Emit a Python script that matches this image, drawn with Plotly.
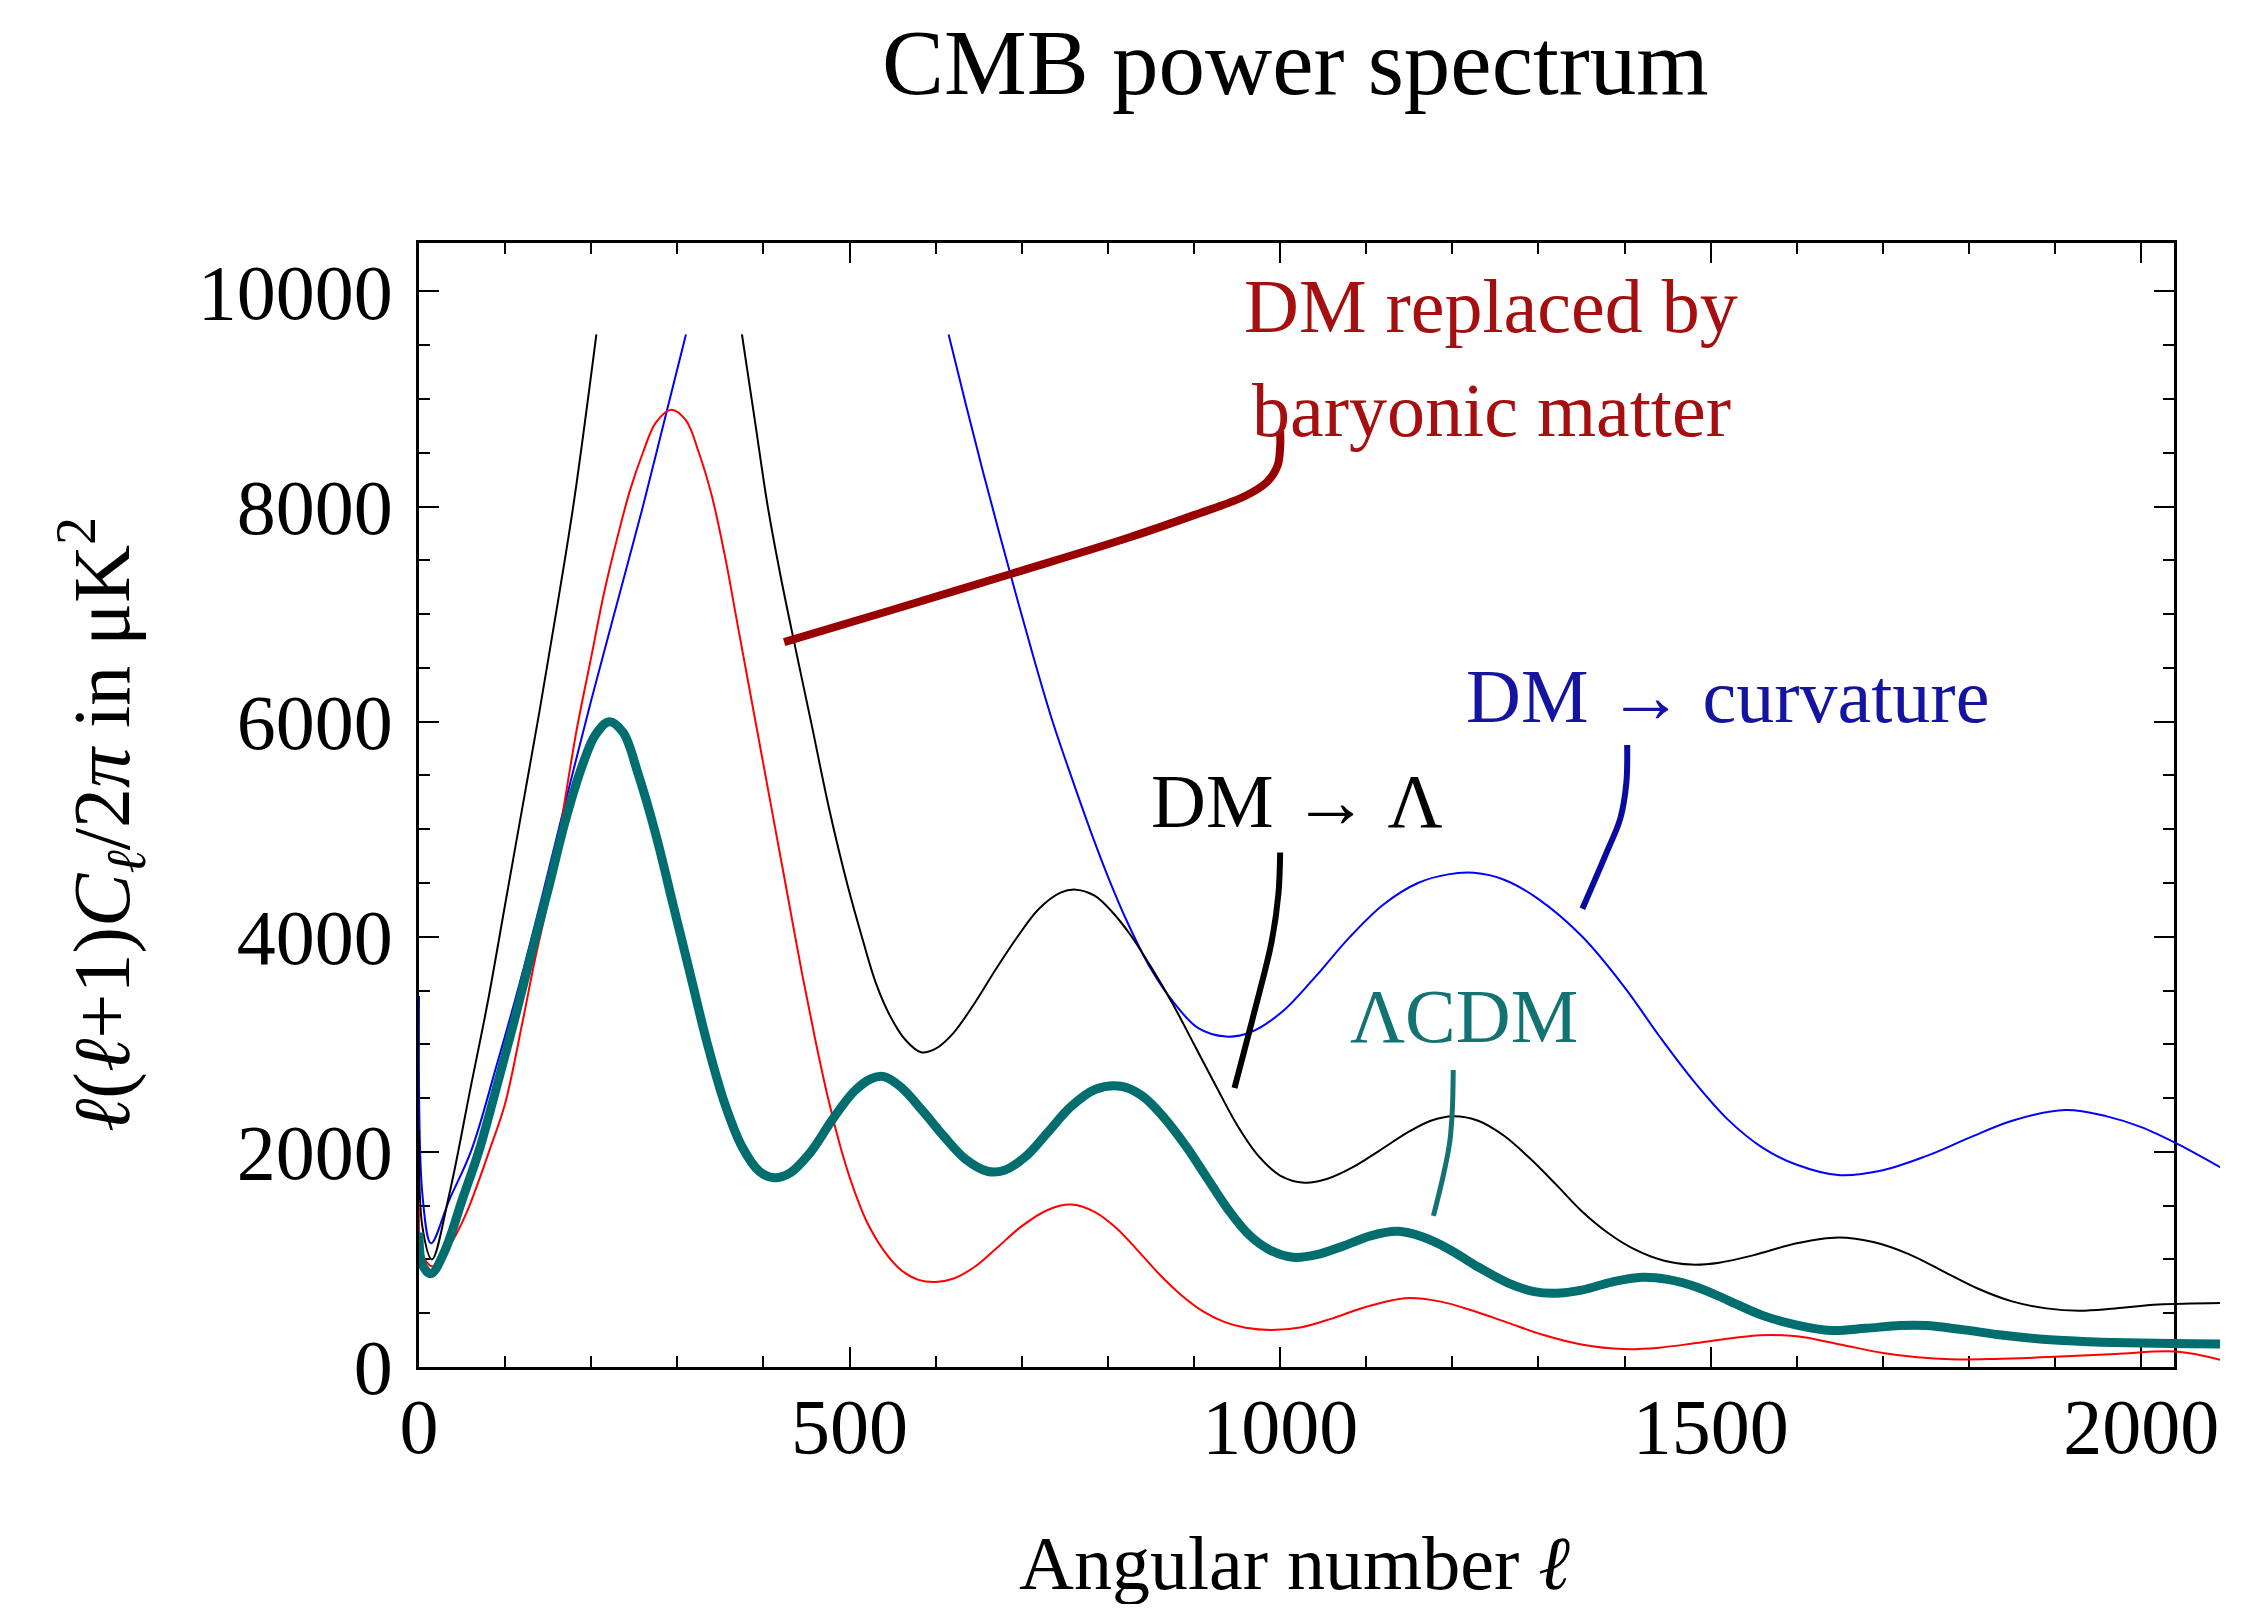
import plotly.graph_objects as go

# ---------------- data ----------------
lcdm_l = [0, 4, 14, 30, 50, 70, 90, 110, 130, 150, 170, 190, 205, 221, 237, 255, 275, 295, 315, 335, 355, 375,
          395, 412, 430, 455, 480, 505, 525, 540, 560, 585, 610, 635, 660, 680, 705, 730, 757, 785, 815, 840,
          865, 890, 915, 940, 965, 990, 1015, 1045, 1075, 1105, 1137, 1165, 1195, 1230, 1265, 1295, 1320, 1350,
          1385, 1420, 1450, 1485, 1520, 1560, 1600, 1640, 1680, 1720, 1750, 1790, 1840, 1890, 1940, 2000, 2094]
lcdm_v = [1250, 950, 868, 1080, 1550, 2019, 2600, 3200, 3830, 4440, 5080, 5600, 5880, 6000, 5900, 5500, 4950,
          4300, 3650, 3000, 2450, 2050, 1820, 1760, 1800, 2000, 2300, 2560, 2680, 2700, 2600, 2380, 2140, 1930,
          1820, 1830, 1960, 2180, 2420, 2580, 2610, 2520, 2320, 2060, 1760, 1460, 1220, 1080, 1020, 1050, 1130,
          1220, 1261, 1210, 1100, 930, 780, 700, 685, 715, 790, 835, 815, 740, 620, 480, 390, 340, 360, 385, 385,
          350, 295, 255, 235, 222, 214]

baryon_l = [0, 4, 16, 35, 55, 82, 100, 120, 135, 150, 167, 183, 200, 215, 230, 245, 260, 275, 293, 310, 325, 340,
            355, 370, 385, 400, 415, 430, 445, 460, 475, 490, 505, 520, 540, 560, 580, 600, 620, 645, 670, 700,
            730, 757, 785, 810, 835, 860, 885, 910, 935, 960, 990, 1025, 1060, 1100, 1146, 1185, 1225, 1265,
            1305, 1350, 1399, 1440, 1490, 1557, 1600, 1650, 1700, 1740, 1778, 1830, 1900, 1970, 2040, 2094]
baryon_v = [1500, 1050, 936, 1120, 1430, 2019, 2450, 3200, 3800, 4344, 5150, 5921, 6600, 7200, 7700, 8150, 8500,
            8780, 8900, 8800, 8500, 8100, 7550, 6900, 6250, 5600, 4950, 4300, 3650, 3050, 2500, 2030, 1650, 1350,
            1080, 900, 810, 790, 820, 930, 1100, 1310, 1460, 1510, 1440, 1290, 1080, 860, 670, 520, 420, 365, 345,
            370, 450, 560, 640, 610, 520, 410, 300, 210, 167, 180, 230, 295, 285, 210, 130, 90, 71, 75, 95, 120,
            143, 62]

lambda_l = [0, 4, 15, 35, 60, 80, 100, 120, 140, 160, 180, 206, None,
            375, 390, 405, 420, 438, 456, 476, 497, 515, 531, 548, 565, 583, 600, 620, 645, 670, 695, 720, 745,
            763, 785, 805, 825, 850, 875, 900, 925, 950, 975, 1000, 1028, 1055, 1085, 1115, 1150, 1175, 1201,
            1230, 1260, 1290, 1320, 1350, 1380, 1410, 1445, 1478, 1510, 1550, 1600, 1648, 1690, 1730, 1770, 1810,
            1850, 1890, 1928, 1970, 2020, 2094]
lambda_v = [2200, 1300, 1000, 1600, 2600, 3400, 4300, 5200, 6100, 7050, 8050, 9600, None,
            9600, 8800, 8000, 7350, 6650, 5970, 5200, 4500, 3980, 3560, 3250, 3040, 2926, 2960, 3100, 3380, 3700,
            4000, 4260, 4410, 4438, 4380, 4230, 4030, 3720, 3380, 3000, 2620, 2250, 1960, 1780, 1714, 1750, 1860,
            2010, 2190, 2290, 2332, 2290, 2150, 1940, 1700, 1450, 1250, 1100, 990, 952, 970, 1040, 1150, 1204,
            1160, 1050, 890, 730, 610, 545, 524, 545, 580, 595]

curv_l = [0, 4, 14, 35, 61, 90, 117, 142, 170, 200, 230, 260, 285, 310, None,
          615, 635, 655, 675, 695, 715, 735, 757, 780, 800, 823, 850, 877, 905, 937, 965, 1002, 1040, 1080, 1120,
          1160, 1195, 1225, 1260, 1300, 1351, 1400, 1440, 1480, 1520, 1560, 1600, 1648, 1700, 1750, 1800, 1850,
          1912, 1960, 2000, 2043, 2094]
curv_v = [3450, 1600, 1150, 1550, 2019, 2800, 3570, 4344, 5250, 6200, 7100, 8000, 8800, 9600, None,
          9600, 8950, 8320, 7720, 7130, 6560, 6020, 5500, 4980, 4560, 4128, 3700, 3383, 3150, 3072, 3110, 3300,
          3620, 3990, 4300, 4500, 4580, 4594, 4530, 4350, 4000, 3530, 3080, 2660, 2300, 2040, 1880, 1785, 1830,
          1960, 2130, 2290, 2390, 2330, 2230, 2070, 1847]

# callout lines (label leaders)
lead_baryon_l = [424, 550, 690, 820, 900, 960, 985, 997, 1000, 1000]
lead_baryon_v = [6740, 7040, 7380, 7700, 7920, 8100, 8230, 8380, 8550, 8700]
lead_lambda_l = [947, 970, 990, 998, 1000]
lead_lambda_v = [2594, 3300, 3950, 4400, 4784]
lead_curv_l = [1351, 1380, 1395, 1402, 1403]
lead_curv_v = [4260, 4800, 5100, 5430, 5783]
lead_lcdm_l = [1178, 1190, 1197, 1200, 1201]
lead_lcdm_v = [1404, 1800, 2094, 2400, 2761]

labels = ["DM replaced by", "baryonic matter", "DM → curvature", "DM → Λ", "ΛCDM"]
label_l = [1245, 1245, 1519, 1020, 1214]
label_v = [9866, 8900, 6242, 5262, 3262]
label_col = ["#a60f0f", "#a60f0f", "#1414a0", "#000000", "#137272"]

x_ticks = [0, 500, 1000, 1500, 2000]
y_ticks = [0, 2000, 4000, 6000, 8000, 10000]

# ---------------- layout geometry (page adds an 8px body margin) ----------------
W, H = 2249, 1596
L, R_frame, R_ext, T, B = 411, 2166, 2212, 235, 1359
XMAX = 2038
px_per = (R_frame - L) / XMAX
X2MAX = (R_ext - L) / px_per
d1 = (R_frame - L) / (R_ext - L)
FONT = "Liberation Serif, Times New Roman, serif"

TEAL = "#006e6e"
fig = go.Figure()

# dummy to create the frame subplot
fig.add_trace(go.Scatter(x=[None], y=[None], xaxis="x", yaxis="y", showlegend=False, hoverinfo="skip"))


def line(xs, ys, color, width):
    fig.add_trace(go.Scatter(x=xs, y=ys, mode="lines", xaxis="x2", yaxis="y",
                             line=dict(color=color, width=width, shape="spline", smoothing=1.0),
                             connectgaps=False, showlegend=False, hoverinfo="skip"))


line(curv_l, curv_v, "#0000ff", 2)
line(lambda_l, lambda_v, "#000000", 2)
line(baryon_l, baryon_v, "#ff0000", 2)
line(lcdm_l, lcdm_v, TEAL, 9)

line(lead_baryon_l, lead_baryon_v, "#990000", 8)
line(lead_lambda_l, lead_lambda_v, "#000000", 6)
line(lead_curv_l, lead_curv_v, "#0a0aa0", 6)
line(lead_lcdm_l, lead_lcdm_v, "#137272", 5)

for t, lx, ly, c in zip(labels, label_l, label_v, label_col):
    fig.add_annotation(x=lx, y=ly, xref="x2", yref="y", text=t, showarrow=False,
                       font=dict(family=FONT, size=76, color=c), xanchor="center", yanchor="middle")

# axis titles and chart title
fig.add_annotation(x=1017, y=(B - 1555) / (B - T), xref="x", yref="paper",
                   text="Angular number <i>ℓ</i>", showarrow=False,
                   font=dict(family=FONT, size=76, color="black"), xanchor="center", yanchor="middle")
fig.add_annotation(x=(93 - L) / (R_ext - L), y=(B - 817) / (B - T), xref="paper", yref="paper",
                   text="<i>ℓ</i>(<i>ℓ</i>+1)<i>C</i><sub><i>ℓ</i></sub>/2<i>π</i> in μK<sup>2</sup>",
                   showarrow=False, textangle=-90,
                   font=dict(family=FONT, size=80, color="black"), xanchor="center", yanchor="middle")
fig.add_annotation(x=1018, y=(B - 54) / (B - T), xref="x", yref="paper",
                   text="CMB power spectrum", showarrow=False,
                   font=dict(family=FONT, size=93, color="black"), xanchor="center", yanchor="middle")

axis_common = dict(showline=True, linecolor="black", linewidth=2.5, mirror="ticks", ticks="inside",
                   tickcolor="black", tickwidth=2, showgrid=False, zeroline=False,
                   tickfont=dict(family=FONT, size=78, color="black"))

fig.update_layout(
    width=W, height=H, autosize=False,
    margin=dict(l=L, r=W - R_ext, t=T, b=H - B, autoexpand=False),
    paper_bgcolor="white", plot_bgcolor="rgba(0,0,0,0)",
    showlegend=False,
    xaxis=dict(domain=[0, d1], range=[0, XMAX], anchor="y", tickmode="array", tickvals=x_ticks,
               ticktext=[str(v) for v in x_ticks], ticklen=20, ticklabelstandoff=-10, automargin=False,
               minor=dict(dtick=100, tick0=0, ticks="inside", ticklen=11, tickcolor="black", tickwidth=1.5),
               **axis_common),
    xaxis2=dict(domain=[0, 1], range=[0, X2MAX], anchor="y", visible=False, showgrid=False, zeroline=False),
    yaxis=dict(domain=[0, 1], range=[0, 10450], anchor="x", tickmode="array", tickvals=y_ticks,
               ticktext=[str(v) for v in y_ticks], ticklen=20, ticklabelstandoff=8, automargin=False,
               minor=dict(dtick=500, tick0=0, ticks="inside", ticklen=11, tickcolor="black", tickwidth=1.5),
               **axis_common),
)

fig.write_html("out.html", config={"responsive": False})
